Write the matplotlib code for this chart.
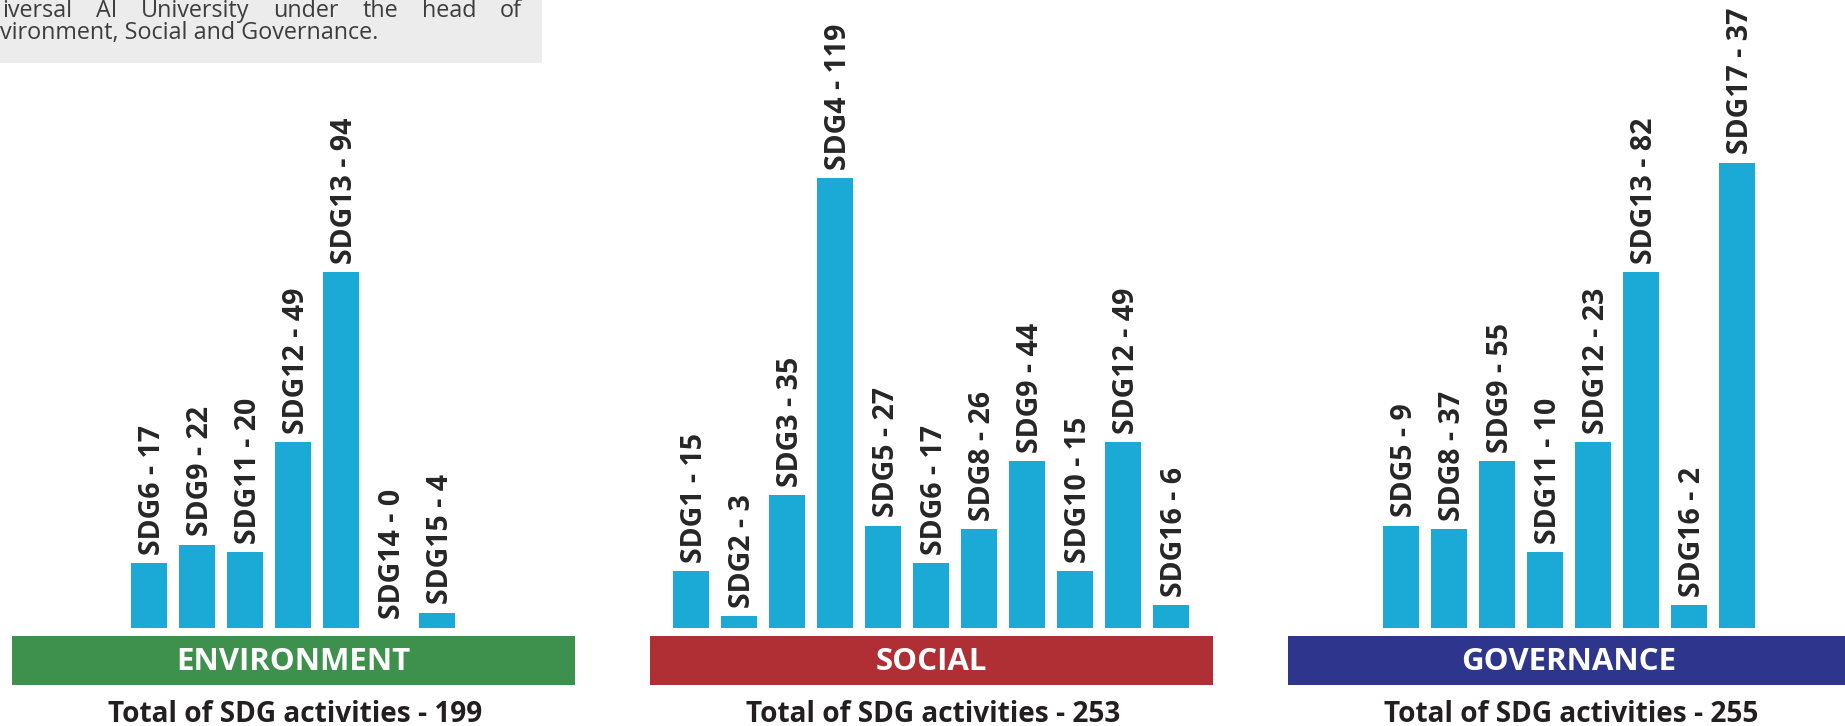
import matplotlib
matplotlib.use("Agg")
import matplotlib.pyplot as plt
from matplotlib.patches import Rectangle

# ---- data ----
env_labels = ["SDG6 - 17", "SDG9 - 22", "SDG11 - 20", "SDG12 - 49",
              "SDG13 - 94", "SDG14 - 0", "SDG15 - 4"]
env_heights = [17, 22, 20, 49, 94, 0, 4]

social_labels = ["SDG1 - 15", "SDG2 - 3", "SDG3 - 35", "SDG4 - 119",
                 "SDG5 - 27", "SDG6 - 17", "SDG8 - 26", "SDG9 - 44",
                 "SDG10 - 15", "SDG12 - 49", "SDG16 - 6"]
social_heights = [15, 3, 35, 119, 27, 17, 26, 44, 15, 49, 6]

gov_labels = ["SDG5 - 9", "SDG8 - 37", "SDG9 - 55", "SDG11 - 10",
              "SDG12 - 23", "SDG13 - 82", "SDG16 - 2", "SDG17 - 37"]
# bar heights as drawn in the graphic (they do not follow the printed numbers)
gov_heights = [27, 26, 44, 20, 49, 94, 6, 123]

panel_titles = ["ENVIRONMENT", "SOCIAL", "GOVERNANCE"]
panel_totals = ["Total of SDG activities - 199",
                "Total of SDG activities - 253",
                "Total of SDG activities - 255"]

intro_line1 = "iversal AI University under the head of"
intro_line2 = "vironment, Social and Governance."

# ---- style ----
BAR_COLOR = "#1baad5"
BAND_COLORS = ["#3e914d", "#b02f35", "#2e358c"]
TEXT_DARK = "#262626"
FONT = "Open Sans"

W, H = 1845, 726
fig = plt.figure(figsize=(W / 100, H / 100), dpi=100)
fig.patch.set_facecolor("white")


def fx(px):
    return px / W


def fy(py):
    # py measured from the top edge
    return 1 - py / H


baseline_px = 627.7
unit_px = 3.78      # pixels per activity
step_px = 48.0      # bar pitch
band_w = 563
band_top, band_bot = 636, 685
centers = [293, 931, 1569]

panels = [(env_labels, env_heights), (social_labels, social_heights),
          (gov_labels, gov_heights)]

for k, (labels, heights) in enumerate(panels):
    cx = centers[k]
    n = len(labels)
    ax = fig.add_axes([fx(cx - band_w / 2), fy(baseline_px),
                       fx(band_w), baseline_px / H])
    half = band_w / 2 / step_px
    ax.set_xlim((n - 1) / 2 - half, (n - 1) / 2 + half)
    ax.set_ylim(0, baseline_px / unit_px)
    ax.axis("off")
    ax.bar(range(n), heights, width=36 / step_px, color=BAR_COLOR)
    for i, (lab, h) in enumerate(zip(labels, heights)):
        ax.annotate(lab, xy=(i, h), xytext=(0, 6), textcoords="offset points",
                    rotation=90, rotation_mode="anchor", ha="left",
                    va="center_baseline", fontsize=20.5, fontweight="bold",
                    family=FONT, color=TEXT_DARK, annotation_clip=False)

    # coloured band with the pillar name
    fig.patches.append(Rectangle((fx(cx - band_w / 2), fy(band_bot)),
                                 fx(band_w), (band_bot - band_top) / H,
                                 transform=fig.transFigure,
                                 facecolor=BAND_COLORS[k], edgecolor="none"))
    fig.text(fx(cx), fy((band_top + band_bot) / 2 + 1), panel_titles[k],
             ha="center", va="center", color="white", fontsize=22.5,
             fontweight="bold", family=FONT)
    fig.text(fx(cx + 2), fy(721.5), panel_totals[k], ha="center",
             va="baseline", color="#231f20", fontsize=20.2,
             fontweight="bold", family=FONT)

# grey intro box, cut off at the top-left like the source
fig.patches.append(Rectangle((0, fy(62.5)), fx(542), 62.5 / H,
                             transform=fig.transFigure,
                             facecolor="#ebeceb", edgecolor="none", zorder=0))
INTRO_SIZE = 16.8
renderer = fig.canvas.get_renderer()
words = intro_line1.split()
widths = []
for w in words:
    t = fig.text(0, 0, w, fontsize=INTRO_SIZE, family=FONT)
    widths.append(t.get_window_extent(renderer).width)
    t.remove()
x0, x1 = 2, 522
gap = (x1 - x0 - sum(widths)) / (len(words) - 1)
x = x0
for w, wd in zip(words, widths):
    fig.text(fx(x), fy(16.7), w, ha="left", va="baseline",
             fontsize=INTRO_SIZE, family=FONT, color="#3d3d3d")
    x += wd + gap
fig.text(fx(0), fy(39.5), intro_line2, ha="left", va="baseline",
         fontsize=INTRO_SIZE, family=FONT, color="#3d3d3d")

fig.savefig("out.png", dpi=100)
